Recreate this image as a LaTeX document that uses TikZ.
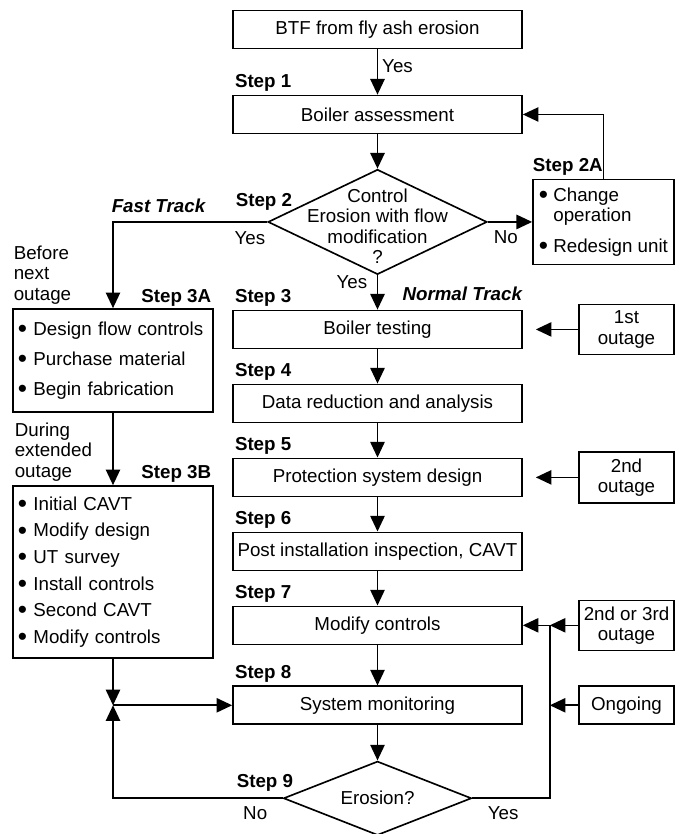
\documentclass[tikz,border=0pt]{standalone}
\usepackage{fontspec}
\setmainfont{Liberation Sans}
\usepackage{tikz}
\usetikzlibrary{positioning,shapes.geometric,arrows.meta}
\newcommand{\fsz}{\fontsize{16pt}{17.3pt}\selectfont}
\newcommand{\bitem}{\raisebox{-0.11em}{\scalebox{1.4}{\textbullet}}\ }

\begin{document}
\begin{tikzpicture}[font=\fsz, node distance=1.03cm, line width=1.4pt,
    >={Triangle[length=0.47cm,width=0.43cm]},
    box/.style={draw, minimum width=8.67cm, minimum height=1.14cm, inner sep=2pt},
    sidebox/.style={draw, align=center, minimum width=2.85cm, inner sep=2pt},
    listbox/.style={draw, align=left, inner xsep=0.15cm},
    choice/.style={draw, diamond, inner sep=0pt},
    steplbl/.style={font=\fsz\bfseries, inner sep=0pt},
    tracklbl/.style={font=\fsz\bfseries\itshape, inner sep=0pt},
    txt/.style={inner sep=0pt, align=left}]
        \useasboundingbox (0,0) rectangle (20.4,-25.02);
        \node [box] (btf) at (11.325,-0.885) {BTF from fly ash erosion};
        \node [box, below=1.36cm of btf] (ba) {Boiler assessment};
        \node [choice, below=of ba, minimum width=6.57cm, minimum height=3.15cm] (d2) {};
        \node [txt, align=center] (q2) at ([yshift=-0.13cm]d2.center) {Control\\Erosion with flow\\modification\\?};
        \node [box, below=of d2] (bt) {Boiler testing};
        \node [box, below=of bt] (dr) {Data reduction and analysis};
        \node [box, below=of dr] (psd) {Protection system design};
        \node [box, below=of psd] (pii) {Post installation inspection, CAVT};
        \node [box, below=of pii] (mc) {Modify controls};
        \node [box, below=1.21cm of mc] (sm) {System monitoring};
        \node [choice, below=1.06cm of sm, minimum width=5.64cm, minimum height=2.22cm] (d9) {};
        \node [txt] (q9) at (d9) {Erosion?};

        \node [listbox, right=1.33cm of d2, minimum width=4.23cm, minimum height=2.55cm] (s2a)
            {\bitem Change\\\hphantom{\bitem}operation\\[0.3cm]\bitem Redesign unit};
        \node [listbox, text width=5.7cm, minimum height=3.09cm] (s3a) at (3.39,-10.815)
            {\bitem Design flow controls\\[0.3cm]\bitem Purchase material\\[0.3cm]\bitem Begin fabrication};
        \node [listbox, text width=5.7cm, minimum height=5.16cm] (s3b) at (3.39,-17.16)
            {\bitem Initial CAVT\\[0.19cm]\bitem Modify design\\[0.19cm]\bitem UT survey\\[0.19cm]\bitem Install controls\\[0.19cm]\bitem Second CAVT\\[0.19cm]\bitem Modify controls};

        \node [sidebox, right=1.66cm of bt, minimum height=1.5cm] (o1) {1st\\outage};
        \node [sidebox, right=1.66cm of psd, minimum height=1.53cm] (o2) {2nd\\outage};
        \node [sidebox, right=1.66cm of mc, minimum height=1.5cm] (o23) {2nd or 3rd\\outage};
        \node [sidebox, right=1.66cm of sm, minimum height=1.14cm] (ong) {Ongoing};

        \node [steplbl, anchor=base west] (l1) at ([shift={(0.06cm,0.22cm)}]ba.north west) {Step 1};
        \node [steplbl, anchor=base west] (l2) at (7.05,-6.2) {Step 2};
        \node [steplbl, anchor=base west] (l3) at ([shift={(0.06cm,0.22cm)}]bt.north west) {Step 3};
        \node [steplbl, anchor=base west] (l4) at ([shift={(0.06cm,0.22cm)}]dr.north west) {Step 4};
        \node [steplbl, anchor=base west] (l5) at ([shift={(0.06cm,0.22cm)}]psd.north west) {Step 5};
        \node [steplbl, anchor=base west] (l6) at ([shift={(0.06cm,0.22cm)}]pii.north west) {Step 6};
        \node [steplbl, anchor=base west] (l7) at ([shift={(0.06cm,0.22cm)}]mc.north west) {Step 7};
        \node [steplbl, anchor=base west] (l8) at ([shift={(0.06cm,0.22cm)}]sm.north west) {Step 8};
        \node [steplbl, anchor=base west] (l9) at (7.08,-23.63) {Step 9};
        \node [steplbl, anchor=base west] (l2a) at ([shift={(0cm,0.22cm)}]s2a.north west) {Step 2A};
        \node [steplbl, anchor=base east] (l3a) at (6.36,-9.08) {Step 3A};
        \node [steplbl, anchor=base east] (l3b) at (6.36,-14.36) {Step 3B};
        \node [tracklbl, anchor=base east] (nt) at ([shift={(0cm,0.28cm)}]bt.north east) {Normal Track};
        \node [tracklbl, anchor=base east] (ft) at (6.18,-6.38) {Fast Track};
        \node [txt, anchor=west] (bno) at (0.39,-8.25) {Before\\next\\outage};
        \node [txt, anchor=west] (deo) at (0.42,-13.56) {During\\extended\\outage};

        \node [txt, anchor=north east] (y2) at (7.98,-6.915) {Yes};
        \node [txt, anchor=north west] (n2) at (14.79,-6.88) {No};
        \node [txt, anchor=north east] (y3) at (11.04,-8.23) {Yes};
        \node [txt, anchor=north east] (n9) at (8.04,-24.16) {No};
        \node [txt, anchor=north west] (y9) at (14.61,-24.16) {Yes};

        \draw[->] (btf) -- node [right, pos=0.38] (y1) {Yes} (ba);
        \draw[->] (ba) -- (d2);
        \draw[->] (d2) -- (bt);
        \draw[->] (bt) -- (dr);
        \draw[->] (dr) -- (psd);
        \draw[->] (psd) -- (pii);
        \draw[->] (pii) -- (mc);
        \draw[->] (mc) -- (sm);
        \draw[->] (sm) -- (d9);
        \draw[->] (d2.east) -- (s2a.west);
        \draw[->] (s2a.north) |- (ba.east);
        \draw[->] (d2.west) -| (s3a.north);
        \draw[->] (s3a) -- (s3b);
        \draw[->, shorten >=0.39cm] (o1) -- (bt);
        \draw[->, shorten >=0.39cm] (o2) -- (psd);
        \coordinate [right=0.81cm of mc.east] (jr);
        \coordinate (jl) at (s3b.south |- sm.west);
        \draw[->] (o23) -- (jr);
        \draw[->] (jr) -- (mc);
        \draw[->] (ong) -- (ong -| jr);
        \draw (d9.east) -| (jr);
        \draw[->] (s3b) -- (jl);
        \draw[->] (d9.west) -| (jl);
        \draw[->] (jl) -- (sm);
      \end{tikzpicture}
\end{document}
